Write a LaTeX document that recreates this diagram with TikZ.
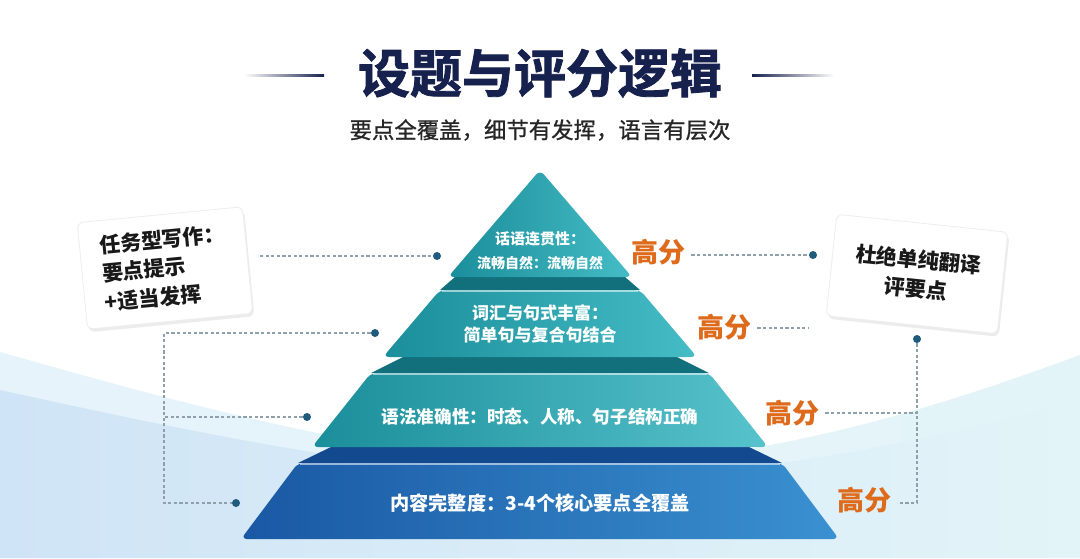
\documentclass[tikz,border=0pt]{standalone}
\usepackage{fontspec}
\setmainfont{Noto Sans CJK SC}
\newfontfamily\titlefont[FakeBold=1.6]{Noto Sans CJK SC Bold}
\newfontfamily\subfont[FakeBold=0.8]{Noto Sans CJK SC}
\usetikzlibrary{calc,positioning,shadows}
\usepackage{xcolor}
\definecolor{titlenavy}{HTML}{17214D}
\definecolor{subgray}{HTML}{262626}
\definecolor{scoreorange}{HTML}{DE6B1C}
\definecolor{dotblue}{HTML}{1E5B7C}
\definecolor{guidegray}{HTML}{8FA0AD}
\definecolor{tealdark}{HTML}{1A8E9A}
\definecolor{teallight}{HTML}{45BCC6}
\definecolor{bandteal}{HTML}{11707C}
\definecolor{bluedark}{HTML}{1A58A4}
\definecolor{bluelight}{HTML}{3A91D1}
\definecolor{bandblue}{HTML}{134A8F}
\definecolor{skyblue}{HTML}{CFE4F6}
\definecolor{skypale}{HTML}{E6F3FB}
\definecolor{skycyan}{HTML}{E3F4F8}

\begin{document}
\begin{tikzpicture}[x=0.5pt,y=-0.5pt,
  tiertext/.style={text=white,font=\bfseries,align=center,inner sep=0pt},
  highmark/.style={text=scoreorange,font=\bfseries\fontsize{13.5}{16}\selectfont,inner sep=3pt},
  joint/.style={circle,fill=dotblue,inner sep=0pt,minimum size=4pt},
  guide/.style={draw=guidegray,line width=0.6pt,dash pattern=on 1.6pt off 1.2pt},
  notecard/.style={draw=black!7,fill=white,rounded corners=3pt,
    drop shadow={opacity=0.15,shadow xshift=0.8pt,shadow yshift=-1.5pt},
    minimum width=83pt,minimum height=53.5pt,text=black!90,
    font=\bfseries\fontsize{10.5}{14.5}\selectfont}]
  \useasboundingbox (0,0) rectangle (1080,558);

  % background swoosh
  \fill[white] (0,0) rectangle (1080,558);
  \shade[left color=skypale,right color=skycyan]
    (0,352) .. controls (170,400) and (330,445) .. (540,468)
    .. controls (760,465) and (930,410) .. (1080,355) -- (1080,558) -- (0,558) -- cycle;
  \shade[left color=skyblue,right color=skycyan]
    (0,390) .. controls (160,425) and (330,462) .. (540,482)
    .. controls (760,478) and (930,440) .. (1080,400) -- (1080,558) -- (0,558) -- cycle;

  % title
  \node[font=\titlefont\fontsize{26}{30}\selectfont,text=titlenavy] (title) at (540,73) {设题与评分逻辑};
  \node[font=\subfont\fontsize{11.2}{13}\selectfont,text=subgray] (sub) at (540,130) {要点全覆盖，细节有发挥，语言有层次};
  \shade[left color=white,right color=titlenavy] (244,74) rectangle (324,76.5);
  \shade[left color=titlenavy,right color=white] (752,74) rectangle (834,76.5);

  % guide lines and dots
  \node[joint] (dl1) at (437,256) {};
  \node[joint] (dl2) at (375,333) {};
  \node[joint] (dl3) at (307,417) {};
  \node[joint] (dl4) at (236,503) {};
  \node[joint] (dr1) at (813,255) {};
  \node[joint] (dr2) at (917,339) {};
  \coordinate (lc1) at (260,256);
  \coordinate (lbend) at (164,333);
  \coordinate (lfoot) at (164,503);
  \coordinate (rfoot) at (917,503);
  \coordinate (r2end) at (809,328);

  % pyramid: top faces first, then fronts
  \foreach \yt/\yb/\wt/\wb/\c in {277/290/85/100/bandteal, 357/373/137/169/bandteal, 447/463/209/242/bandblue}
    \fill[\c] (540-\wt,\yt) -- (540+\wt,\yt) -- (540+\wb,\yb) -- (540-\wb,\yb) -- cycle;
  \shade[left color=tealdark,right color=teallight,rounded corners=3pt]
    (540,170) -- (632,277) -- (448,277) -- cycle;
  \foreach \yt/\yb/\wt/\wb/\cl/\cr in {290/357/100/157/tealdark/teallight,
                                       373/447/169/228/tealdark/teallight!90!white,
                                       463/539/242/299/bluedark/bluelight} {
    \shade[left color=\cl,right color=\cr,rounded corners=3pt]
      (540-\wt,\yt) -- (540+\wt,\yt) -- (540+\wb,\yb) -- (540-\wb,\yb) -- cycle;
    \draw[white,opacity=0.55,line width=0.7pt] (540-\wt+2,\yt+1) -- (540+\wt-2,\yt+1);
  }

  \node[tiertext] (tier1) at (540,251) {\fontsize{7.5}{9}\selectfont 话语连贯性：\\[0pt]\fontsize{7}{9}\selectfont 流畅自然：流畅自然};
  \node[tiertext,font=\bfseries\fontsize{8.5}{11}\selectfont] (tier2) at (540,324) {词汇与句式丰富：\\简单句与复合句结合};
  \node[tiertext,font=\bfseries\fontsize{8.8}{11}\selectfont] (tier3) at (540,417) {语法准确性：时态、人称、句子结构正确};
  \node[tiertext,font=\bfseries\fontsize{9.6}{11}\selectfont] (tier4) at (540,503) {内容完整度：3-4个核心要点全覆盖};

  % score marks
  \node[highmark] (hf1) at (658,252) {高分};
  \node[highmark] (hf2) at (724,327) {高分};
  \node[highmark] (hf3) at (792,413) {高分};
  \node[highmark] (hf4) at (864,500) {高分};

  \draw[guide] (lc1) -- (dl1);
  \draw[guide] (dl2) -- (lbend) -- (lfoot) -- (dl4);
  \draw[guide] (dl3) -- (dl3 -| lbend);
  \draw[guide] (dr1 -| hf1.east) -- (dr1);
  \draw[guide] (r2end -| hf2.east) -- (r2end);
  \draw[guide] (hf3.east) -- (hf3.east -| dr2);
  \draw[guide] (dr2) -- (rfoot) -- (rfoot -| hf4.east);

  % side cards
  \node[notecard,rotate=5.5,align=left] (cardL) at (165,268) {任务型写作：\\要点提示\\+适当发挥};
  \node[notecard,rotate=-6,align=center,minimum width=86pt,minimum height=51pt] (cardR) at (917,274) {杜绝单纯翻译\\评要点};
\end{tikzpicture}
\end{document}
